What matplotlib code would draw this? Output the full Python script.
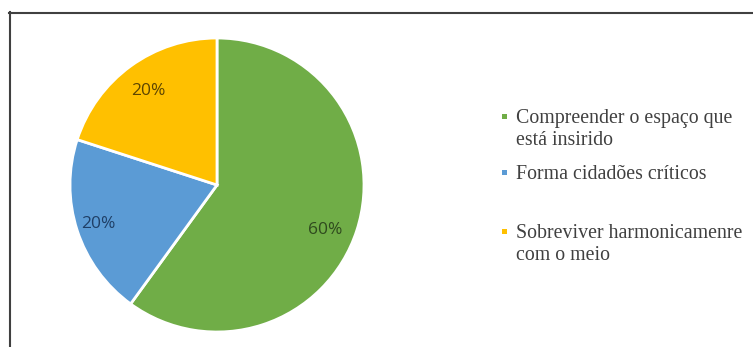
import matplotlib.pyplot as plt
from matplotlib.lines import Line2D
from matplotlib.patches import Rectangle
import numpy as np

labels = ['Compreender o espaço que\nestá insirido',
          'Forma cidadões críticos',
          'Sobreviver harmonicamenre\ncom o meio']
values = [60, 20, 20]
colors = ['#70AD47', '#5B9BD5', '#FFC000']
text_colors = ['#2F4A1E', '#1F3F66', '#5C4500']
label_dist = [0.80, 0.85, 0.79]
label_shift = [-4.5, 0, 0]   # degrees, best-fit nudges

W, H = 753, 347
fig = plt.figure(figsize=(W / 100, H / 100), dpi=100)

# pie axes: centre (217,185) px, radius 147 px
cx, cy, r = 217, 185, 147
ax = fig.add_axes([(cx - r) / W, (H - cy - r) / H, 2 * r / W, 2 * r / H])
wedges, _ = ax.pie(values, colors=colors, startangle=90, counterclock=False,
                   wedgeprops=dict(edgecolor='white', linewidth=2))
ax.set_xlim(-1, 1)
ax.set_ylim(-1, 1)
ax.set_aspect('equal')

for w, v, tc, d, s in zip(wedges, values, text_colors, label_dist, label_shift):
    mid = np.deg2rad((w.theta1 + w.theta2) / 2 + s)
    ax.text(d * np.cos(mid), d * np.sin(mid), f'{v}%', ha='center', va='center',
            fontsize=12.5, color=tc, family='Open Sans')

# legend entries (first-line baselines in px)
baselines = [126, 182, 241]
for lab, c, b in zip(labels, colors, baselines):
    fig.patches.append(Rectangle((502 / W, 1 - (b - 7) / H), 5 / W, 5 / H,
                                 transform=fig.transFigure, facecolor=c,
                                 edgecolor='none'))
    fig.text(516 / W, 1 - (b - 17) / H, lab, ha='left', va='top',
             fontsize=14.3, family='Liberation Serif', color='#404040',
             linespacing=1.22)

# outer frame (top and left only)
fig.add_artist(Line2D([9 / W, 1], [1 - 12.5 / H] * 2, transform=fig.transFigure,
                      color='#404040', linewidth=1.5))
fig.add_artist(Line2D([9.5 / W] * 2, [0, 1 - 12 / H], transform=fig.transFigure,
                      color='#404040', linewidth=1.5))

fig.savefig('out.png', dpi=100)
